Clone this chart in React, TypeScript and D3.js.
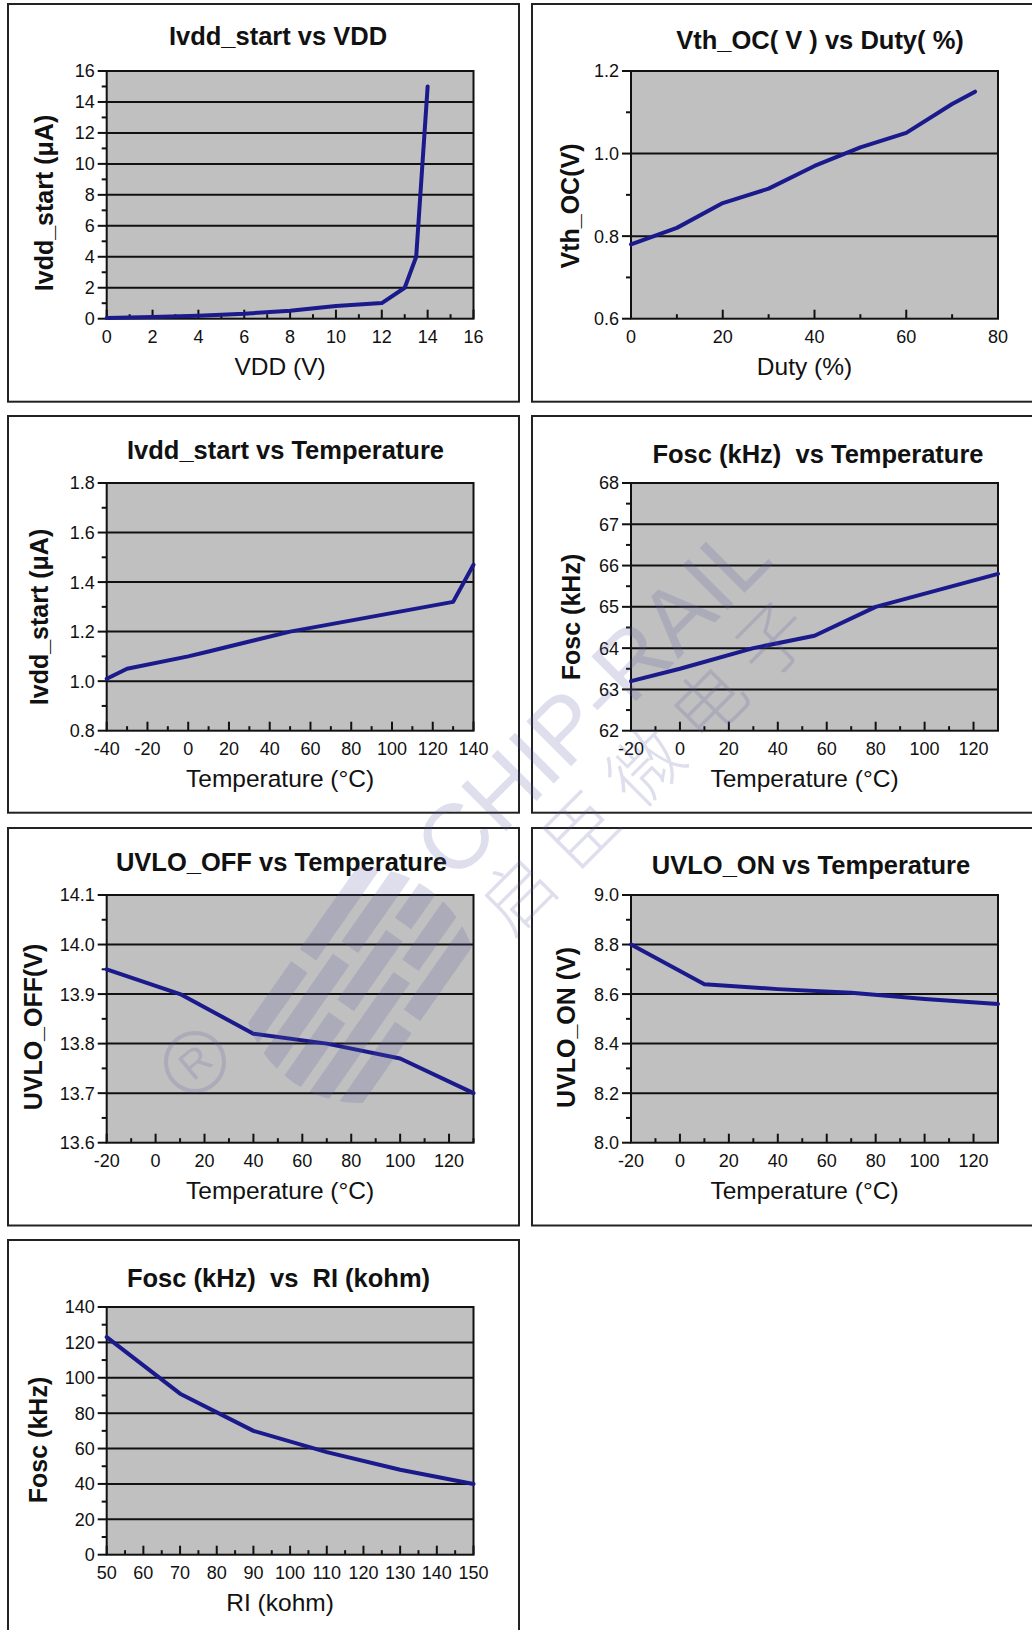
import React from "react";
import * as d3 from "d3";

// ---------- data ----------
const vddX = [0, 2, 4, 6, 8, 10, 12, 13, 13.5, 14];
const ivddVddY = [0.05, 0.11, 0.19, 0.32, 0.52, 0.82, 1.01, 2.0, 4.0, 15.0];

const dutyX = [0, 10, 20, 30, 40, 50, 60, 70, 75];
const vthOcY = [0.78, 0.82, 0.88, 0.915, 0.97, 1.015, 1.05, 1.12, 1.15];

const tempIvddX = [-40, -30, 0, 10, 50, 130, 140];
const ivddTempY = [1.01, 1.05, 1.1, 1.12, 1.2, 1.32, 1.47];

const tempFoscX = [-20, 0, 30, 55, 80, 130];
const foscTempY = [63.2, 63.5, 64.0, 64.3, 65.0, 65.8];

const tempUvloX = [-20, 10, 40, 70, 100, 130];
const uvloOffY = [13.95, 13.9, 13.82, 13.8, 13.77, 13.7];
const uvloOnY = [8.8, 8.64, 8.62, 8.605, 8.58, 8.56];

const rlX = [50, 70, 90, 110, 130, 150];
const foscRlY = [123, 91, 70, 58, 48, 40];

// ---------- ticks ----------
const vddTicks = [0, 2, 4, 6, 8, 10, 12, 14, 16];
const vddMinor = [1, 3, 5, 7, 9, 11, 13, 15];
const ivddTicks = [0, 2, 4, 6, 8, 10, 12, 14, 16];
const ivddMinor = [1, 3, 5, 7, 9, 11, 13, 15];

const dutyTicks = [0, 20, 40, 60, 80];
const dutyMinor = [10, 30, 50, 70];
const vthTicks = [0.6, 0.8, 1.0, 1.2];
const vthMinor = [0.7, 0.9, 1.1];

const temp40Ticks = [-40, -20, 0, 20, 40, 60, 80, 100, 120, 140];
const temp40Minor = [-30, -10, 10, 30, 50, 70, 90, 110, 130];
const ivddTTicks = [0.8, 1.0, 1.2, 1.4, 1.6, 1.8];
const ivddTMinor = [0.9, 1.1, 1.3, 1.5, 1.7];

const temp20Ticks = [-20, 0, 20, 40, 60, 80, 100, 120];
const temp20Minor = [-10, 10, 30, 50, 70, 90, 110, 130];
const foscTTicks = [62, 63, 64, 65, 66, 67, 68];
const foscTMinor = [62.5, 63.5, 64.5, 65.5, 66.5, 67.5];

const uvloOffTicks = [13.6, 13.7, 13.8, 13.9, 14.0, 14.1];
const uvloOffMinor = [13.65, 13.75, 13.85, 13.95, 14.05];
const uvloOnTicks = [8.0, 8.2, 8.4, 8.6, 8.8, 9.0];
const uvloOnMinor = [8.1, 8.3, 8.5, 8.7, 8.9];

const rlTicks = [50, 60, 70, 80, 90, 100, 110, 120, 130, 140, 150];
const rlMinor = [55, 65, 75, 85, 95, 105, 115, 125, 135, 145];
const foscRTicks = [0, 20, 40, 60, 80, 100, 120, 140];
const foscRMinor = [10, 30, 50, 70, 90, 110, 130];

// ---------- style / layout ----------
const FONT = "'Liberation Sans', Arial, Helvetica, sans-serif";
const LINE = "#1a1a8c";
const PLOT_BG = "#c0c0c0";
const COLS = [
  { px: 8, pw: 511, l: 106.7, r: 473.5 },
  { px: 532, pw: 540, l: 631, r: 998 },
];
const ROWS = [4, 416, 828, 1240];
const ROWH = [397.7, 396.7, 397.5, 430];

const f0 = (v: number) => String(v);
const f1 = (v: number) => v.toFixed(1);

type Cfg = {
  col: number;
  row: number;
  title: string;
  titleX: number;
  titleDy: number;
  xTitle: string;
  yTitle: string;
  yTitleX: number;
  yTitleY: number;
  xs: number[];
  ys: number[];
  xDomain: [number, number];
  xTicks: number[];
  xMinor: number[];
  yDomain: [number, number];
  yTicks: number[];
  yMinor: number[];
  yFmt: (v: number) => string;
};

const charts: Cfg[] = [
  {
    col: 0, row: 0, title: "Ivdd_start vs VDD", titleX: 278, titleDy: 41,
    xTitle: "VDD (V)", yTitle: "Ivdd_start (\u03bcA)", yTitleX: 53, yTitleY: 203,
    xs: vddX, ys: ivddVddY, xDomain: [0, 16], xTicks: vddTicks, xMinor: vddMinor,
    yDomain: [0, 16], yTicks: ivddTicks, yMinor: ivddMinor, yFmt: f0,
  },
  {
    col: 1, row: 0, title: "Vth_OC( V ) vs Duty( %)", titleX: 820, titleDy: 45,
    xTitle: "Duty (%)", yTitle: "Vth_OC(V)", yTitleX: 579, yTitleY: 206,
    xs: dutyX, ys: vthOcY, xDomain: [0, 80], xTicks: dutyTicks, xMinor: dutyMinor,
    yDomain: [0.6, 1.2], yTicks: vthTicks, yMinor: vthMinor, yFmt: f1,
  },
  {
    col: 0, row: 1, title: "Ivdd_start vs Temperature", titleX: 285.5, titleDy: 43,
    xTitle: "Temperature (\u00b0C)", yTitle: "Ivdd_start (\u03bcA)", yTitleX: 48, yTitleY: 617,
    xs: tempIvddX, ys: ivddTempY, xDomain: [-40, 140], xTicks: temp40Ticks, xMinor: temp40Minor,
    yDomain: [0.8, 1.8], yTicks: ivddTTicks, yMinor: ivddTMinor, yFmt: f1,
  },
  {
    col: 1, row: 1, title: "Fosc (kHz)  vs Temperature", titleX: 818, titleDy: 46.5,
    xTitle: "Temperature (\u00b0C)", yTitle: "Fosc (kHz)", yTitleX: 580, yTitleY: 617,
    xs: tempFoscX, ys: foscTempY, xDomain: [-20, 130], xTicks: temp20Ticks, xMinor: temp20Minor,
    yDomain: [62, 68], yTicks: foscTTicks, yMinor: foscTMinor, yFmt: f0,
  },
  {
    col: 0, row: 2, title: "UVLO_OFF vs Temperature", titleX: 281.5, titleDy: 43,
    xTitle: "Temperature (\u00b0C)", yTitle: "UVLO_OFF(V)", yTitleX: 42, yTitleY: 1027,
    xs: tempUvloX, ys: uvloOffY, xDomain: [-20, 130], xTicks: temp20Ticks, xMinor: temp20Minor,
    yDomain: [13.6, 14.1], yTicks: uvloOffTicks, yMinor: uvloOffMinor, yFmt: f1,
  },
  {
    col: 1, row: 2, title: "UVLO_ON vs Temperature", titleX: 811, titleDy: 46,
    xTitle: "Temperature (\u00b0C)", yTitle: "UVLO_ON (V)", yTitleX: 575, yTitleY: 1027.5,
    xs: tempUvloX, ys: uvloOnY, xDomain: [-20, 130], xTicks: temp20Ticks, xMinor: temp20Minor,
    yDomain: [8.0, 9.0], yTicks: uvloOnTicks, yMinor: uvloOnMinor, yFmt: f1,
  },
  {
    col: 0, row: 3, title: "Fosc (kHz)  vs  RI (kohm)", titleX: 278.5, titleDy: 46.5,
    xTitle: "RI (kohm)", yTitle: "Fosc (kHz)", yTitleX: 47, yTitleY: 1440,
    xs: rlX, ys: foscRlY, xDomain: [50, 150], xTicks: rlTicks, xMinor: rlMinor,
    yDomain: [0, 140], yTicks: foscRTicks, yMinor: foscRMinor, yFmt: f0,
  },
];

function Chart({ c }: { c: Cfg }) {
  const col = COLS[c.col];
  const pTop = ROWS[c.row];
  const top = pTop + 67;
  const bot = pTop + 314.7;
  const x = d3.scaleLinear().domain(c.xDomain).range([col.l, col.r]);
  const y = d3.scaleLinear().domain(c.yDomain).range([bot, top]);
  const line = d3
    .line<number>()
    .x((_, i) => x(c.xs[i]))
    .y((d) => y(d));
  const grid = c.yTicks.filter((v) => v !== c.yDomain[0] && v !== c.yDomain[1]);
  const cx = (col.l + col.r) / 2;
  return (
    <g>
      <rect x={col.px} y={pTop} width={col.pw} height={ROWH[c.row]} fill="#fff" stroke="#222" strokeWidth={2} />
      <rect x={col.l} y={top} width={col.r - col.l} height={bot - top} fill={PLOT_BG} />
      {grid.map((v) => (
        <line key={"g" + v} x1={col.l} x2={col.r} y1={y(v)} y2={y(v)} stroke="#111" strokeWidth={2} />
      ))}
      <rect x={col.l} y={top} width={col.r - col.l} height={bot - top} fill="none" stroke="#111" strokeWidth={2} />
      {c.yTicks.map((v) => (
        <line key={"yt" + v} x1={col.l - 9} x2={col.l} y1={y(v)} y2={y(v)} stroke="#111" strokeWidth={2} />
      ))}
      {c.yMinor.map((v) => (
        <line key={"ym" + v} x1={col.l - 5} x2={col.l} y1={y(v)} y2={y(v)} stroke="#111" strokeWidth={2} />
      ))}
      {c.xTicks.map((v) => (
        <line key={"xt" + v} x1={x(v)} x2={x(v)} y1={bot - 9} y2={bot} stroke="#111" strokeWidth={2} />
      ))}
      {c.xMinor.map((v) => (
        <line key={"xm" + v} x1={x(v)} x2={x(v)} y1={bot - 4.5} y2={bot} stroke="#111" strokeWidth={2} />
      ))}
      <path d={line(c.ys) || ""} fill="none" stroke={LINE} strokeWidth={4} strokeLinejoin="round" strokeLinecap="round" />
      {c.yTicks.map((v) => (
        <text key={"yl" + v} x={col.l - 12} y={y(v)} dy="0.36em" textAnchor="end" fontSize={18} fontFamily={FONT} fill="#111">
          {c.yFmt(v)}
        </text>
      ))}
      {c.xTicks.map((v) => (
        <text key={"xl" + v} x={x(v)} y={bot + 24.5} textAnchor="middle" fontSize={18} fontFamily={FONT} fill="#111">
          {f0(v)}
        </text>
      ))}
      <text
        x={c.titleX}
        y={pTop + c.titleDy}
        textAnchor="middle"
        fontSize={25.5}
        fontWeight="bold"
        fontFamily={FONT}
        fill="#111"
        style={{ whiteSpace: "pre" }}
      >
        {c.title}
      </text>
      <text x={cx - 10} y={bot + 56.5} textAnchor="middle" fontSize={24.5} fontFamily={FONT} fill="#111">
        {c.xTitle}
      </text>
      <text
        x={c.yTitleX}
        y={c.yTitleY}
        transform={`rotate(-90 ${c.yTitleX} ${c.yTitleY})`}
        textAnchor="middle"
        fontSize={25}
        fontWeight="bold"
        fontFamily={FONT}
        fill="#111"
      >
        {c.yTitle}
      </text>
    </g>
  );
}

const WM = "rgba(90,90,165,0.2)";
const logoBars = [
  { o: -60, segs: [[-120, -20], [-5, 120]] },
  { o: -30, segs: [[-130, 10], [25, 130]] },
  { o: 0, segs: [[-130, -40], [-25, 60], [75, 130]] },
  { o: 30, segs: [[-130, 30], [45, 130]] },
  { o: 60, segs: [[-120, -10], [5, 120]] },
];

function Watermark() {
  return (
    <g pointerEvents="none">
      <defs>
        <clipPath id="logoClip">
          <circle cx={0} cy={0} r={118} />
        </clipPath>
      </defs>
      <g transform="translate(360 985) rotate(-55)" clipPath="url(#logoClip)">
        {logoBars.map((b, i) =>
          b.segs.map((s, j) => (
            <rect key={i + "-" + j} x={s[0]} y={b.o - 10} width={s[1] - s[0]} height={20} fill={WM} />
          ))
        )}
      </g>
      <circle cx={195} cy={1062} r={29} fill="none" stroke={WM} strokeWidth={4} />
      <text x={195} y={1062} dy="0.35em" textAnchor="middle" fontSize={40} fontFamily={FONT} fill={WM} transform="rotate(-40 195 1062)">
        R
      </text>
      <text
        x={592}
        y={700}
        transform="rotate(-45 592 700)"
        textAnchor="middle"
        dominantBaseline="central"
        fontSize={92}
        fontFamily={FONT}
        fill={WM}
      >
        CHIP-RAIL
      </text>
      <text
        x={648}
        y={757}
        transform="rotate(-45 648 757)"
        textAnchor="middle"
        dominantBaseline="central"
        fontSize={72}
        fontWeight={300}
        letterSpacing={18}
        fontFamily="'Noto Sans CJK SC', sans-serif"
        fill={WM}
      >
        启臣微电子
      </text>
    </g>
  );
}

export default function App() {
  return (
    <div style={{ position: "absolute", left: 0, top: 0 }}>
      <svg width={1032} height={1630} viewBox="0 0 1032 1630" style={{ display: "block", background: "#fff" }}>
        {charts.map((c, i) => (
          <Chart key={i} c={c} />
        ))}
        <Watermark />
      </svg>
    </div>
  );
}
